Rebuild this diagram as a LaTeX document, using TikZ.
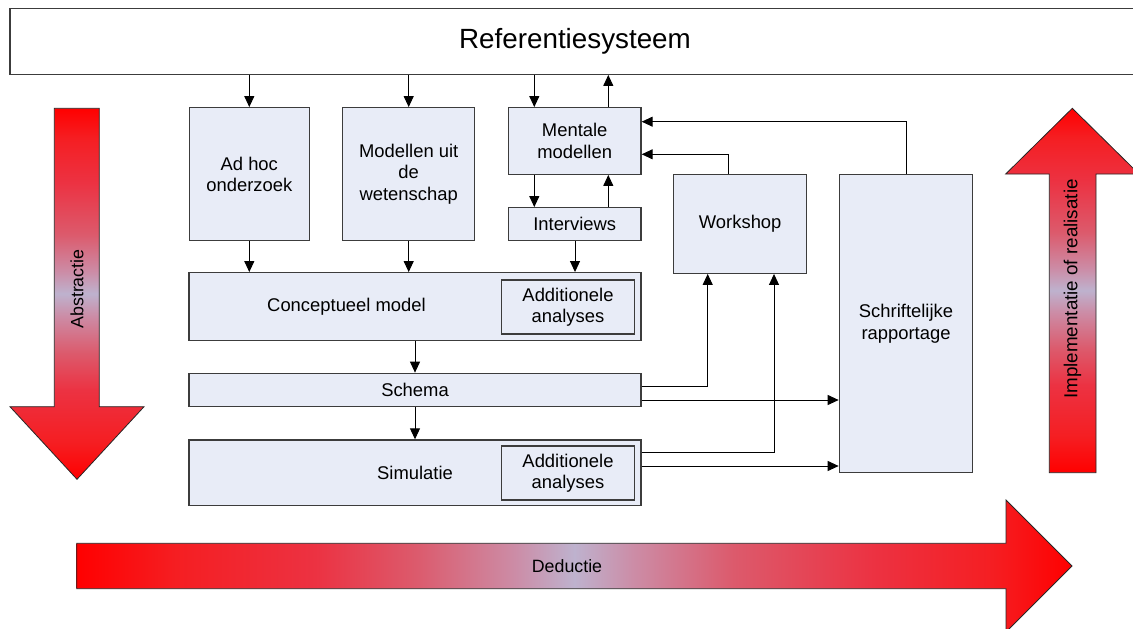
\documentclass[tikz,border=0pt]{standalone}
\usepackage{fontspec}
\setmainfont{Liberation Sans}
\usetikzlibrary{arrows.meta}

% box and connector colours
\definecolor{boxfill}{HTML}{E8ECF7}
\definecolor{boxline}{HTML}{3C3C3C}
% colours of the three big red arrows
\definecolor{aR}{HTML}{FF0000}
\definecolor{aRa}{HTML}{F51E22}
\definecolor{aRb}{HTML}{EC3242}
\definecolor{aP}{HTML}{DC5A6C}
\definecolor{aQ}{HTML}{CC8CA6}
\definecolor{aL}{HTML}{BEB2CE}

\pgfdeclarehorizontalshading{bandh}{100bp}{color(0bp)=(aR); color(25bp)=(aR);
  color(30bp)=(aRa); color(37bp)=(aRb); color(42bp)=(aP); color(47bp)=(aQ);
  color(50bp)=(aL); color(53bp)=(aQ); color(58bp)=(aP); color(65bp)=(aRb);
  color(71bp)=(aRa); color(75bp)=(aR); color(100bp)=(aR)}
\pgfdeclareverticalshading{bandv}{100bp}{color(0bp)=(aR); color(25bp)=(aR);
  color(30bp)=(aRa); color(37bp)=(aRb); color(42bp)=(aP); color(47bp)=(aQ);
  color(50bp)=(aL); color(53bp)=(aQ); color(58bp)=(aP); color(65bp)=(aRb);
  color(71bp)=(aRa); color(75bp)=(aR); color(100bp)=(aR)}

\newcommand\boxfont{\fontsize{18.4}{21.5}\selectfont}
\newcommand\titlefont{\fontsize{27.8}{30}\selectfont}
\newcommand\bandfont{\fontsize{17.8}{20}\selectfont}
\newcommand\tallbandfont{\fontsize{18.8}{20}\selectfont}

\begin{document}
\begin{tikzpicture}[x=1pt,y=-1pt,
  blk/.style={draw=boxline, fill=boxfill, line width=1.3pt, inner sep=0pt,
    align=center, font=\boxfont},
  arr/.style={draw=black, line width=1pt, -{Triangle[length=11pt,width=10pt]}},
  bigarrow/.style={draw=black!85, line width=0.8pt},
  bandtext/.style={font=\bandfont, text=black, inner sep=0pt}]

\useasboundingbox (0,0) rectangle (1133,629);
\clip (0,0) rectangle (1133,629);

% big arrows: abstraction (down), implementation (up), deduction (right)
\shadedraw[shading=bandv, bigarrow] (54.3,108.3) -- (99.3,108.3) -- (99.3,406.7)
  -- (144,406.7) -- (77,479.3) -- (10,406.7) -- (54.3,406.7) -- cycle;
\node[bandtext, rotate=90] (abs) at (77,289) {Abstractie};

\shadedraw[shading=bandv, bigarrow] (1049.3,472.7) -- (1049.3,174) -- (1005.7,174)
  -- (1072.3,108.3) -- (1139,174) -- (1096,174) -- (1096,472.7) -- cycle;
\node[bandtext, font=\tallbandfont, rotate=90] (impl) at (1072.6,289)
  {Implementatie of realisatie};

\shadedraw[shading=bandh, bigarrow] (76.7,543.3) -- (1006,543.3) -- (1006,500)
  -- (1072,566) -- (1006,632) -- (1006,588.7) -- (76.7,588.7) -- cycle;
\node[bandtext] (ded) at (567,566) {Deductie};

% reference system
\node[blk, fill=white, font=\titlefont, minimum width=1130pt, minimum height=65.6pt]
  (ref) at (575,41.5) {Referentiesysteem};

% sources
\node[blk, minimum width=120pt, minimum height=133pt] (adhoc) at (249.3,174.2)
  {Ad hoc\\onderzoek};
\node[blk, minimum width=132pt, minimum height=133pt] (model) at (408.7,174.2)
  {Modellen uit\\de\\wetenschap};
\node[blk, minimum width=132.7pt, minimum height=66.6pt] (ment) at (574.7,141)
  {Mentale\\modellen};
\node[blk, minimum width=132.7pt, minimum height=33pt] (intv) at (574.7,224.2)
  {Interviews};
\node[blk, minimum width=133pt, minimum height=99pt] (work) at (740.2,223.8)
  {Workshop};
\node[blk, minimum width=133.4pt, minimum height=298.4pt] (schr) at (906,323.5)
  {Schriftelijke\\rapportage};

% model chain
\node[blk, minimum width=452pt, minimum height=67.6pt] (conc) at (415,306.5) {};
\node[font=\boxfont, inner sep=0pt] (conclbl) at (346.5,306.5) {Conceptueel model};
\node[blk, minimum width=132.6pt, minimum height=54pt] (conca) at (568,307)
  {Additionele\\analyses};
\node[blk, minimum width=452pt, minimum height=33.4pt] (schema) at (415,390)
  {Schema};
\node[blk, minimum width=452pt, minimum height=65.7pt] (sim) at (415,472.8)
  {Simulatie};
\node[blk, minimum width=132.6pt, minimum height=54pt] (sima) at (568,473)
  {Additionele\\analyses};

% vertical tracks of the connectors
\coordinate (xA) at (534.3,0);
\coordinate (xB) at (608.3,0);
\coordinate (xC) at (575,0);
\coordinate (xW1) at (707.7,0);
\coordinate (xW2) at (774,0);
\coordinate (wtop) at ([xshift=-11.9pt]work.north);
% ports on box sides
\coordinate (me1) at ([yshift=19.3pt]ment.east);
\coordinate (me2) at ([yshift=-13.3pt]ment.east);
\coordinate (s1) at ([yshift=3.3pt]schema.east);
\coordinate (s2) at ([yshift=-10pt]schema.east);
\coordinate (m1) at ([yshift=20.1pt]sim.east);
\coordinate (m2) at ([yshift=6.8pt]sim.east);

% connectors
\draw[arr] (adhoc.north |- ref.south) -- (adhoc.north);
\draw[arr] (model.north |- ref.south) -- (model.north);
\draw[arr] (xA |- ref.south) -- (xA |- ment.north);
\draw[arr] (xB |- ment.north) -- (xB |- ref.south);
\draw[arr] (xA |- ment.south) -- (xA |- intv.north);
\draw[arr] (xB |- intv.north) -- (xB |- ment.south);
\draw[arr] (adhoc.south) -- (adhoc.south |- conc.north);
\draw[arr] (model.south) -- (model.south |- conc.north);
\draw[arr] (xC |- intv.south) -- (xC |- conc.north);
\draw[arr] (conc.south) -- (schema.north);
\draw[arr] (schema.south) -- (sim.north);
\draw[arr] (s1) -| (xW1 |- work.south);
\draw[arr] (m1) -| (xW2 |- work.south);
\draw[arr] (s2) -- (s2 -| schr.west);
\draw[arr] (m2) -- (m2 -| schr.west);
\draw[arr] (wtop) |- (me2);
\draw[arr] (schr.north) |- (me1);
\end{tikzpicture}
\end{document}
